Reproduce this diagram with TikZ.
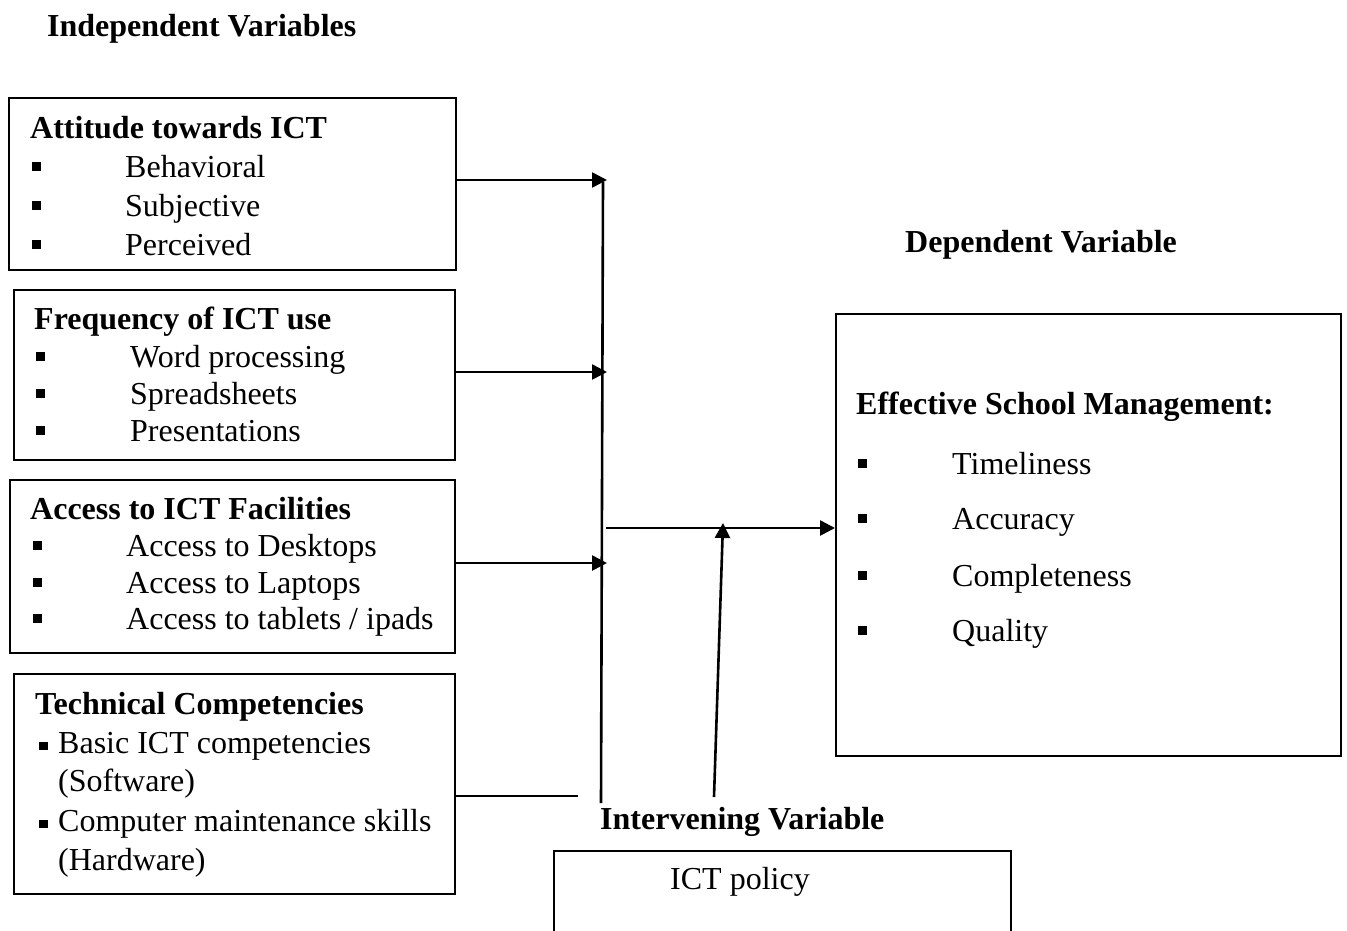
\documentclass[tikz,border=0pt]{standalone}
\usepackage{fontspec}
\setmainfont{Liberation Serif}
\usetikzlibrary{arrows.meta}
% square list markers
\newcommand{\blt}{\rule[6.5pt]{9pt}{9pt}}
\newcommand{\bltlow}{\rule[3pt]{8.5pt}{8.5pt}}
\begin{document}
\begin{tikzpicture}[x=1pt,y=-1pt,
  box/.style={draw, line width=2pt, anchor=north west, inner sep=0pt},
  txt/.style={anchor=base west, inner sep=0pt, font=\fontsize{32}{38}\selectfont},
  head/.style={anchor=base west, inner sep=0pt, font=\fontsize{32}{38}\selectfont\bfseries},
  conn/.style={line width=2.6pt},
  arr/.style={conn, -{Triangle[length=15pt,width=15pt]}},
]
\useasboundingbox (0,0) rectangle (1347,930);
\clip (0,0) rectangle (1347,930);

% section headings
\node[head] (hind) at (47,36) {Independent Variables};
\node[head] (hdep) at (905,252) {Dependent Variable};
\node[head] (hint) at (600,829) {Intervening Variable};

% independent variable boxes
\node[box, minimum width=447pt, minimum height=172pt] (att) at (8,97) {};
\node[head] (att0) at (30,138) {Attitude towards ICT};
\node[txt] (att1) at (32,177) {\makebox[93pt][l]{\blt}Behavioral};
\node[txt] (att2) at (32,216) {\makebox[93pt][l]{\blt}Subjective};
\node[txt] (att3) at (32,255) {\makebox[93pt][l]{\blt}Perceived};

\node[box, minimum width=441pt, minimum height=170pt] (frq) at (13,289) {};
\node[head] (frq0) at (34,329) {Frequency of ICT use};
\node[txt] (frq1) at (36,367) {\makebox[94pt][l]{\blt}Word processing};
\node[txt] (frq2) at (36,404) {\makebox[94pt][l]{\blt}Spreadsheets};
\node[txt] (frq3) at (36,441) {\makebox[94pt][l]{\blt}Presentations};

\node[box, minimum width=445pt, minimum height=173pt] (acc) at (9,479) {};
\node[head] (acc0) at (30,519) {Access to ICT Facilities};
\node[txt] (acc1) at (33,556) {\makebox[93pt][l]{\blt}Access to Desktops};
\node[txt] (acc2) at (33,593) {\makebox[93pt][l]{\blt}Access to Laptops};
\node[txt] (acc3) at (33,629) {\makebox[93pt][l]{\blt}Access to tablets / ipads};

\node[box, minimum width=441pt, minimum height=220pt] (tec) at (13,673) {};
\node[head] (tec0) at (35,714) {Technical Competencies};
\node[txt] (tec1) at (39,753) {\makebox[19pt][l]{\bltlow}Basic ICT competencies};
\node[txt] (tec2) at (58,791) {(Software)};
\node[txt] (tec3) at (39,831) {\makebox[19pt][l]{\bltlow}Computer maintenance skills};
\node[txt] (tec4) at (58,870) {(Hardware)};

% dependent variable box
\node[box, minimum width=505pt, minimum height=442pt] (eff) at (835,313) {};
\node[head] (eff0) at (856,414) {Effective School Management:};
\node[txt] (eff1) at (858,474) {\makebox[94pt][l]{\blt}Timeliness};
\node[txt] (eff2) at (858,529) {\makebox[94pt][l]{\blt}Accuracy};
\node[txt] (eff3) at (858,586) {\makebox[94pt][l]{\blt}Completeness};
\node[txt] (eff4) at (858,641) {\makebox[94pt][l]{\blt}Quality};

% intervening variable box (runs off the lower edge)
\node[box, minimum width=457pt, minimum height=120pt] (pol) at (553,850) {};
\node[txt] (pol0) at (670,889) {ICT policy};

% junction points
\coordinate (ja) at (607,180);
\coordinate (jf) at (607,372);
\coordinate (jc) at (607,563);
\coordinate (jt) at (578,796);
\coordinate (vtop) at (603,182);
\coordinate (vbot) at (601,803);
\coordinate (jm) at (606,528);
\coordinate (ip) at (714,797);
\coordinate (it) at (723,523);

% connectors
\draw[arr] (att.east |- ja) -- (ja);
\draw[arr] (frq.east |- jf) -- (jf);
\draw[arr] (acc.east |- jc) -- (jc);
\draw[conn] (tec.east |- jt) -- (jt);
\draw[conn] (vtop) -- (vbot);
\draw[arr] (jm) -- (eff.west |- jm);
\draw[arr] (ip) -- (it);
\end{tikzpicture}
\end{document}
